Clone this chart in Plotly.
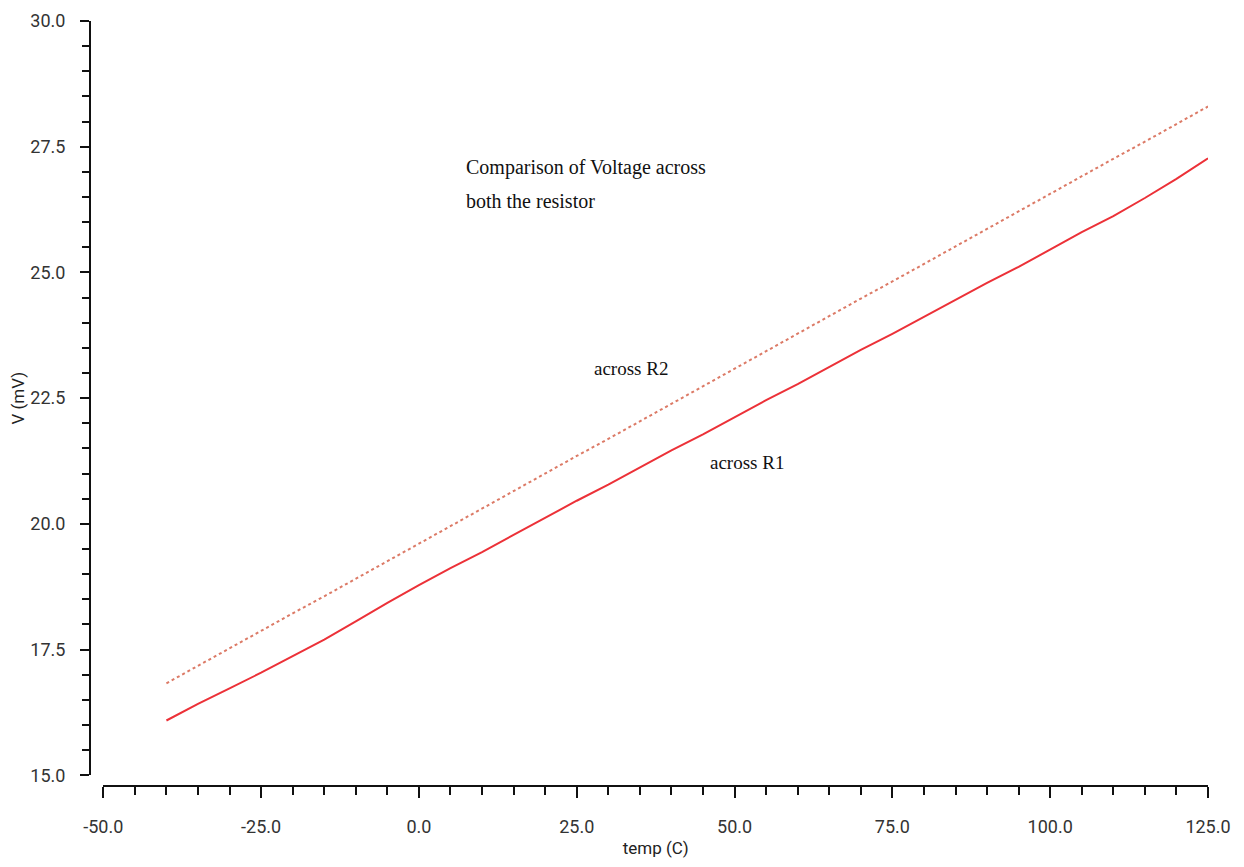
import plotly.graph_objects as go

temp = [-40, -35, -30, -25, -20, -15, -10, -5, 0, 5, 10, 15, 20, 25, 30, 35, 40,
        45, 50, 55, 60, 65, 70, 75, 80, 85, 90, 95, 100, 105, 110, 115, 120, 125]
v_r1 = [16.09, 16.42, 16.73, 17.04, 17.37, 17.70, 18.06, 18.43, 18.78, 19.12,
        19.44, 19.78, 20.12, 20.46, 20.78, 21.12, 21.46, 21.78, 22.12, 22.46,
        22.78, 23.12, 23.46, 23.78, 24.12, 24.45, 24.79, 25.11, 25.46, 25.80,
        26.12, 26.48, 26.86, 27.27]
v_r2 = [16.83, 17.18, 17.52, 17.87, 18.22, 18.56, 18.91, 19.26, 19.61, 19.96,
        20.30, 20.65, 21.00, 21.35, 21.69, 22.04, 22.39, 22.74, 23.08, 23.43,
        23.78, 24.13, 24.48, 24.82, 25.17, 25.52, 25.87, 26.21, 26.56, 26.91,
        27.26, 27.60, 27.95, 28.30]

x_ticks = [-50, -25, 0, 25, 50, 75, 100, 125]
y_ticks = [15, 17.5, 20, 22.5, 25, 27.5, 30]

# the page body adds an 8px offset; compensate so the chart lands where intended
OFF = 8
W, H = 1244 - OFF, 867 - OFF
ml, mt = 90 - OFF, 20.5 - OFF
mr = W - (1208 - OFF)
mb = H - (785.7 - OFF)
pw = W - ml - mr
ph = H - mt - mb
x_dom0 = (103.3 - 90) / pw
y_dom0 = (785.7 - 775) / ph

sans = "Roboto, Liberation Sans, sans-serif"
serif = "Liberation Serif, DejaVu Serif, serif"

fig = go.Figure()
fig.add_trace(go.Scatter(x=temp, y=v_r2, mode="lines", name="across R2",
                         line=dict(color="#dc7a66", width=2, dash="dot")))
fig.add_trace(go.Scatter(x=temp, y=v_r1, mode="lines", name="across R1",
                         line=dict(color="#ec3138", width=2)))

ann_font = dict(family=serif, size=20, color="#111111")
fig.add_annotation(x=7.1, y=27.09, xref="x", yref="y", text="Comparison of Voltage across",
                   showarrow=False, xanchor="left", yanchor="middle", font=ann_font)
fig.add_annotation(x=7.1, y=26.43, xref="x", yref="y", text="both the resistor",
                   showarrow=False, xanchor="left", yanchor="middle", font=ann_font)
fig.add_annotation(x=33.6, y=23.09, xref="x", yref="y", text="across R2",
                   showarrow=False, xanchor="center", yanchor="middle",
                   font=dict(family=serif, size=19, color="#111111"))
fig.add_annotation(x=52.0, y=21.22, xref="x", yref="y", text="across R1",
                   showarrow=False, xanchor="center", yanchor="middle",
                   font=dict(family=serif, size=19, color="#111111"))

fig.update_layout(
    width=W, height=H,
    margin=dict(l=ml, r=mr, t=mt, b=mb, autoexpand=False),
    paper_bgcolor="white", plot_bgcolor="white",
    showlegend=False,
    xaxis=dict(
        domain=[x_dom0, 1], range=[-50, 125], anchor="free", position=0,
        automargin=False,
        tickmode="array", tickvals=x_ticks, ticktext=[f"{t:.1f}" for t in x_ticks],
        ticks="outside", ticklen=11, tickwidth=2, tickcolor="#111111",
        showline=True, linecolor="#111111", linewidth=2, showgrid=False, zeroline=False,
        minor=dict(dtick=5, tick0=-50, ticks="outside", ticklen=8, tickwidth=2,
                   tickcolor="#111111", showgrid=False),
        tickfont=dict(family=sans, size=18, color="#333333"),
        ticklabelstandoff=13,
        title=dict(text="temp (C)", font=dict(family=sans, size=17, color="#222222"),
                   standoff=6),
    ),
    yaxis=dict(
        domain=[y_dom0, 1], range=[15, 30], anchor="free", position=0,
        automargin=False,
        tickmode="array", tickvals=y_ticks, ticktext=[f"{t:.1f}" for t in y_ticks],
        ticks="outside", ticklen=9, tickwidth=2, tickcolor="#111111",
        showline=True, linecolor="#111111", linewidth=2, showgrid=False, zeroline=False,
        minor=dict(dtick=0.5, tick0=15, ticks="outside", ticklen=7, tickwidth=2,
                   tickcolor="#111111", showgrid=False),
        tickfont=dict(family=sans, size=18, color="#333333"),
        ticklabelstandoff=11,
        title=dict(text="V (mV)", font=dict(family=sans, size=17, color="#222222"),
                   standoff=8),
    ),
)

fig.write_html("out.html")
